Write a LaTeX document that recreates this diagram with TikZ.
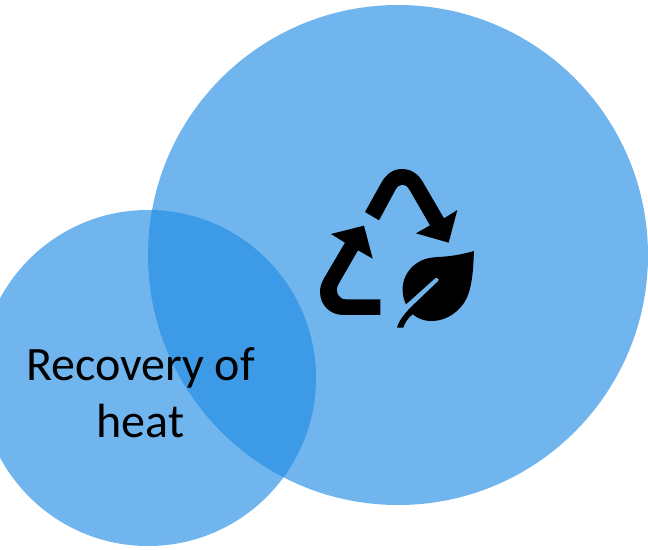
\documentclass[tikz,border=0pt]{standalone}
\usepackage{fontspec}
\setmainfont{Carlito}
\definecolor{bubble}{HTML}{1E8BE4}
\tikzset{
  bubblecircle/.style={fill=bubble,fill opacity=0.63,draw=none},
  iconpart/.style={fill=black,draw=none},
  caption/.style={font=\fontsize{48}{57}\selectfont,align=center,text=black,inner sep=0pt}
}
\begin{document}
\begin{tikzpicture}[x=1pt,y=-1pt]
\useasboundingbox (0,0) rectangle (648,549);
\clip (0,0) rectangle (648,549);
\fill[white] (0,0) rectangle (648,549);
\path[bubblecircle] (398,255) circle[radius=250pt];
\path[bubblecircle] (148,378) circle[radius=168pt];
\node[caption] (label) at (140.5,393) {Recovery of\\heat};
\begin{scope}[shift={(300,150)},x=0.3333pt,y=-0.3333pt]
\path[iconpart] (195,186) -- (243,100) .. controls (258,72) and (280,57) .. (305,57)
  .. controls (332,57) and (353,70) .. (368,95) -- (432,205) -- (472,180) -- (446,278) -- (348,250) -- (390,226)
  -- (330,122) .. controls (322,108) and (316,104) .. (307,104) .. controls (298,104) and (291,110) .. (285,122) -- (237,211) -- cycle;
\path[iconpart] (241,495) -- (130,495) .. controls (90,495) and (60,465) .. (60,425)
  .. controls (60,410) and (65,398) .. (72,385) -- (135,278) -- (93,252) -- (192,227) -- (218,326) -- (174,301)
  -- (114,405) .. controls (104,425) and (115,448) .. (138,448) -- (241,448) -- cycle;
\begin{scope}[shift={(270,285)}]
\path[iconpart] (252,18) .. controls (220,27) and (190,33) .. (160,35)
  .. controls (125,37) and (105,38) .. (80,55)
  .. controls (50,75) and (35,110) .. (38,140) .. controls (39,155) and (43,167) .. (48,178)
  -- (135,100) .. controls (141,95) and (150,103) .. (145,108)
  -- (80,170) .. controls (50,198) and (28,222) .. (21,248) -- (40,248)
  .. controls (45,232) and (55,218) .. (68,208)
  .. controls (85,222) and (105,229) .. (128,228) .. controls (170,227) and (210,200) .. (230,160)
  .. controls (248,120) and (250,65) .. (252,18) -- cycle;
\end{scope}
\end{scope}
\end{tikzpicture}
\end{document}
